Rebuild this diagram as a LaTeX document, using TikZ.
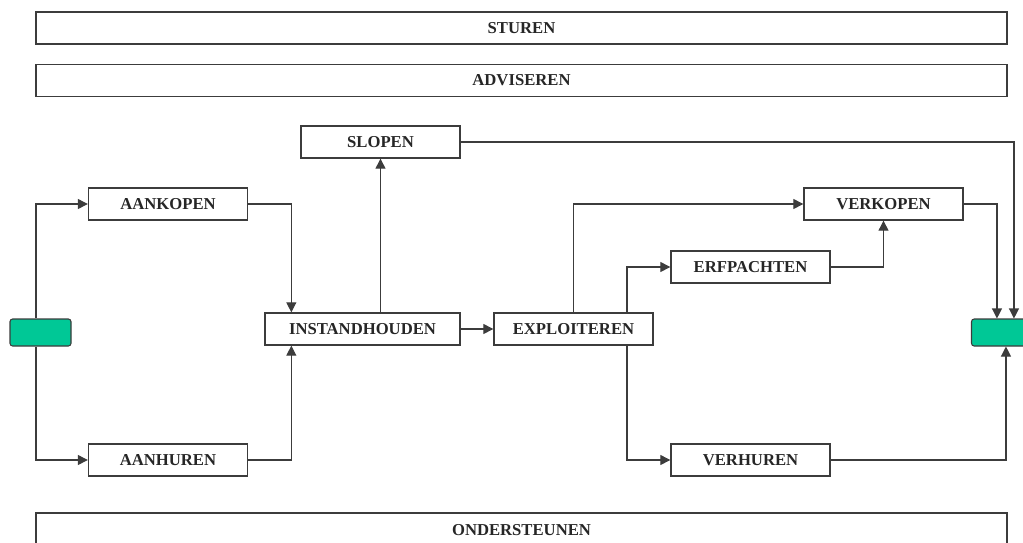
\documentclass[tikz,border=0pt]{standalone}
\usepackage{fontspec}
\setmainfont{Liberation Serif}
\usetikzlibrary{arrows.meta}
\definecolor{ln}{HTML}{3C3C3C}
\definecolor{grn}{HTML}{00C896}
\def\p{0.75pt}
\tikzset{
  box/.style={draw=ln, line width=1pt, fill=white, inner sep=0pt, minimum height=24pt,
    font=\fontsize{12.5}{14}\selectfont\bfseries, text=black!85},
  wbox/.style={box, minimum width=119.25pt},
  bar/.style={box, minimum width=728.25pt},
  gbox/.style={draw=ln, line width=0.8pt, fill=grn, rounded corners=2pt, inner sep=0pt,
    minimum height=20.25pt, minimum width=45.75pt},
  arr/.style={draw=ln, line width=0.8pt, -{Triangle[length=7.5pt,width=7.5pt]}},
}
\begin{document}
\begin{tikzpicture}[x=0.75pt,y=-0.75pt]
\useasboundingbox (0,0) rectangle (1023,542);
\node[bar] (sturen) at (521.5,28) {STUREN};
\node[bar] (adv) at (521.5,80.5) {ADVISEREN};
\node[bar, minimum height=25.5pt] (onder) at (521.5,530) {ONDERSTEUNEN};
\node[wbox] (slopen) at (380.5,142) {SLOPEN};
\node[wbox] (aankopen) at (168,204) {AANKOPEN};
\node[wbox] (verkopen) at (883.5,204) {VERKOPEN};
\node[wbox] (erf) at (750.5,267) {ERFPACHTEN};
\node[box, minimum width=146.25pt] (inst) at (362.5,329) {INSTANDHOUDEN};
\node[wbox] (expl) at (573.5,329) {EXPLOITEREN};
\node[wbox] (aanhuren) at (168,460) {AANHUREN};
\node[wbox] (verhuren) at (750.5,460) {VERHUREN};
\node[gbox] (lg) at (40.5,332.5) {};
\node[gbox] (rg) at (1002,332.5) {};
% connectors
\draw[arr] ([xshift={-4.5*\p}]lg.north) |- (aankopen.west);
\draw[arr] ([xshift={-4.5*\p}]lg.south) |- (aanhuren.west);
\draw[arr] (aankopen.east) -| ([xshift={27*\p}]inst.north west);
\draw[arr] (aanhuren.east) -| ([xshift={27*\p}]inst.south west);
\draw[arr] (inst.north -| slopen.south) -- (slopen.south);
\draw[arr] (inst.east) -- (expl.west);
\draw[arr] (expl.north) |- (verkopen.west);
\draw[arr] ([xshift={53.5*\p}]expl.north) |- (erf.west);
\draw[arr] ([xshift={53.5*\p}]expl.south) |- (verhuren.west);
\draw[arr] (erf.east) -| (verkopen.south);
\draw[arr] (verkopen.east) -| ([xshift={26*\p}]rg.north west);
\draw[arr] (slopen.east) -| ([xshift={43*\p}]rg.north west);
\draw[arr] (verhuren.east) -| ([xshift={35*\p}]rg.south west);
\end{tikzpicture}
\end{document}
